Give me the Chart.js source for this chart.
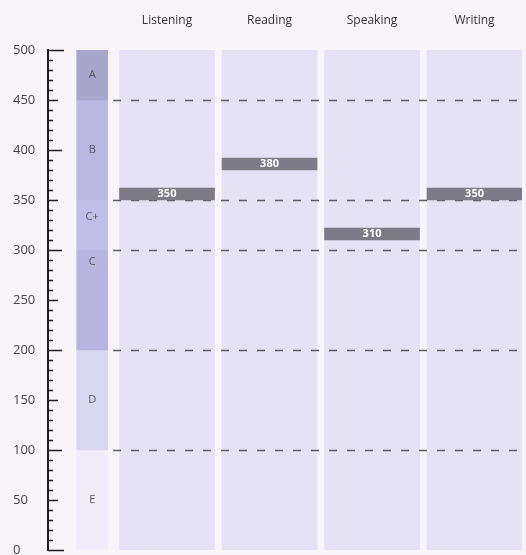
<!DOCTYPE html>
<html>
<head>
<meta charset="utf-8">
<script src="https://cdn.jsdelivr.net/npm/chart.js"></script>
<style>
  html, body { margin: 0; padding: 0; background: #f7f4fa; }
  #wrap { width: 526px; height: 555px; }
</style>
</head>
<body>
<div id="wrap"><canvas id="myChart"></canvas></div>
<script>
// DATA
const subjects = ['Listening', 'Reading', 'Speaking', 'Writing'];
const scores = [350, 380, 310, 350];
const gradeNames = ['E', 'D', 'C', 'C+', 'B', 'A'];
const gradeLow = [0, 100, 200, 300, 350, 450];
const gradeHigh = [100, 200, 300, 350, 450, 500];
const gradeLabelAt = [50, 150, 288, 333, 400, 475];
const dashLevels = [100, 200, 300, 350, 450];
const yMax = 500;

// look
const gradeColors = ['#f0edf8', '#dad7f0', '#b8b6e0', '#c0bfe8', '#b9b8e1', '#a8a6ca'];
const scoreBand = 12;   // height of score marker, in points
const gradeX = 0.27;    // grade column sits left of the subjects

const marks = {
  id: 'marks',
  afterDatasetDraw(chart, args) {
    if (chart.data.datasets[args.index].label !== 'columns') return;
    const ctx = chart.ctx, x = chart.scales.x, y = chart.scales.y;
    const x0 = x.getPixelForValue(1) - 54;
    const x1 = x.getPixelForValue(subjects.length) + 46;
    ctx.save();
    ctx.strokeStyle = '#5e5e66';
    ctx.lineWidth = 1.5;
    ctx.setLineDash([8, 10]);
    dashLevels.forEach(v => {
      const py = Math.round(y.getPixelForValue(v)) + 0.5;
      ctx.beginPath();
      ctx.moveTo(x0, py);
      ctx.lineTo(x1, py);
      ctx.stroke();
    });
    ctx.restore();
  },
  afterDraw(chart) {
    const ctx = chart.ctx, x = chart.scales.x, y = chart.scales.y;
    const left = chart.chartArea.left;
    ctx.save();
    // axis line + ticks
    ctx.strokeStyle = '#1e1e1e';
    ctx.lineWidth = 2;
    ctx.beginPath();
    ctx.moveTo(left, y.getPixelForValue(yMax) - 1);
    ctx.lineTo(left, y.getPixelForValue(0) + 1);
    ctx.stroke();
    ctx.lineWidth = 1.5;
    for (let v = 0; v <= yMax; v += 10) {
      let len = v % 100 === 0 ? 14 : (v % 50 === 0 ? 10 : 5);
      if (v === 0 || v === yMax) len = 16;
      const py = Math.round(y.getPixelForValue(v)) + 0.5;
      ctx.beginPath();
      ctx.moveTo(left, py);
      ctx.lineTo(left + len, py);
      ctx.stroke();
    }
    // grade letters
    ctx.font = '11px "Open Sans"';
    ctx.textAlign = 'center';
    ctx.textBaseline = 'middle';
    ctx.fillStyle = '#55555f';
    gradeNames.forEach((g, i) => {
      ctx.fillText(g, x.getPixelForValue(gradeX), y.getPixelForValue(gradeLabelAt[i]));
    });
    // score values
    ctx.font = 'bold 11px "Open Sans"';
    ctx.fillStyle = '#ffffff';
    scores.forEach((s, i) => {
      ctx.fillText(String(s), x.getPixelForValue(i + 1), y.getPixelForValue(s + scoreBand / 2));
    });
    ctx.restore();
  }
};

const data = {
  datasets: [
    {
      label: 'scores',
      data: scores.map((s, i) => ({ x: i + 1, y: [s, s + scoreBand] })),
      backgroundColor: '#7c7b87',
      barThickness: 95,
      grouped: false,
      order: 0
    },
    {
      label: 'columns',
      data: subjects.map((s, i) => ({ x: i + 1, y: [0, yMax] })),
      backgroundColor: '#e4e2f4',
      barThickness: 95,
      grouped: false,
      order: 2
    },
    {
      label: 'grades',
      data: gradeLow.map((lo, i) => ({ x: gradeX, y: [lo, gradeHigh[i]] })),
      backgroundColor: gradeColors,
      barThickness: 31,
      grouped: false,
      order: 3
    }
  ]
};

const config = {
  type: 'bar',
  data: data,
  plugins: [marks],
  options: {
    responsive: true,
    maintainAspectRatio: false,
    animation: false,
    layout: { padding: { left: 13, right: 4, top: 10, bottom: 5 } },
    plugins: { legend: { display: false }, tooltip: { enabled: false } },
    scales: {
      x: {
        type: 'linear',
        position: 'top',
        offset: false,
        min: -0.161,
        max: 4.463,
        afterBuildTicks: (scale) => { scale.ticks = subjects.map((s, i) => ({ value: i + 1 })); },
        afterFit: (scale) => { scale.height = 40; },
        ticks: {
          callback: (v) => subjects[v - 1] || '',
          color: '#333',
          padding: 22,
          maxRotation: 0,
          autoSkip: false,
          font: { family: 'Open Sans', size: 12 }
        },
        grid: { display: false, drawTicks: false },
        border: { display: false }
      },
      y: {
        min: 0,
        max: yMax,
        afterFit: (scale) => { scale.width = 35; scale.paddingBottom = 0; scale.paddingTop = 0; },
        ticks: {
          stepSize: 50,
          crossAlign: 'far',
          color: '#444',
          font: { family: 'Open Sans', size: 13 }
        },
        grid: { display: false, drawTicks: false },
        border: { display: false }
      }
    }
  }
};

new Chart(document.getElementById('myChart'), config);
</script>
</body>
</html>
